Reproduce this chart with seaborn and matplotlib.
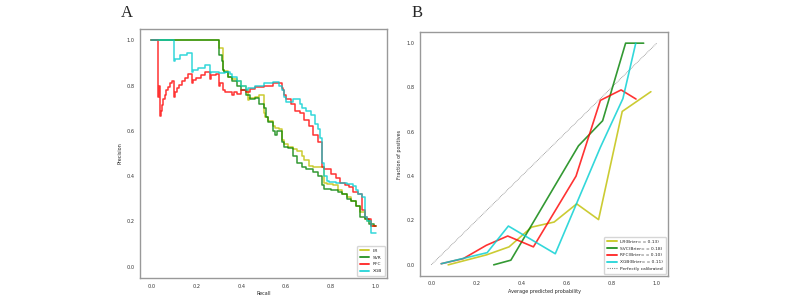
import numpy as np
import pandas as pd
import matplotlib
matplotlib.use("Agg")
import matplotlib.pyplot as plt
import seaborn as sns

# ---- panel A: precision-recall curves ----
lr_recall = [0.0, 0.30, 0.31, 0.32, 0.325, 0.34, 0.36, 0.38, 0.40, 0.42, 0.43, 0.435, 0.46, 0.48, 0.50,
             0.505, 0.52, 0.54, 0.55, 0.57, 0.58, 0.59, 0.61, 0.63, 0.65, 0.67, 0.68, 0.70, 0.72, 0.75,
             0.77, 0.78, 0.81, 0.83, 0.85, 0.87, 0.89, 0.91, 0.93, 0.95, 0.96, 0.98, 1.0]
lr_precision = [1.0, 1.0, 0.967, 0.967, 0.87, 0.865, 0.84, 0.83, 0.82, 0.80, 0.78, 0.735, 0.745, 0.75, 0.76,
                0.68, 0.66, 0.645, 0.62, 0.615, 0.61, 0.56, 0.54, 0.53, 0.52, 0.51, 0.49, 0.47, 0.445, 0.44,
                0.44, 0.37, 0.365, 0.36, 0.34, 0.32, 0.31, 0.29, 0.27, 0.24, 0.21, 0.20, 0.18]

svr_recall = [0.0, 0.30, 0.305, 0.315, 0.32, 0.325, 0.34, 0.36, 0.38, 0.40, 0.42, 0.44, 0.46, 0.48, 0.50,
              0.51, 0.52, 0.54, 0.55, 0.56, 0.58, 0.59, 0.61, 0.63, 0.65, 0.67, 0.69, 0.72, 0.74, 0.76,
              0.77, 0.80, 0.83, 0.85, 0.87, 0.89, 0.91, 0.93, 0.95, 0.97, 0.99, 1.0]
svr_precision = [1.0, 1.0, 0.935, 0.935, 0.91, 0.87, 0.86, 0.84, 0.82, 0.80, 0.78, 0.76, 0.74, 0.745, 0.72,
                 0.70, 0.66, 0.64, 0.60, 0.58, 0.60, 0.55, 0.53, 0.525, 0.49, 0.46, 0.44, 0.43, 0.42, 0.40,
                 0.36, 0.345, 0.34, 0.33, 0.32, 0.30, 0.29, 0.27, 0.22, 0.21, 0.19, 0.18]

rfc_recall = [0.0, 0.029, 0.033, 0.037, 0.042, 0.047, 0.053, 0.06, 0.067, 0.075, 0.083, 0.091, 0.10,
              0.105, 0.115, 0.125, 0.137, 0.15, 0.165, 0.18, 0.185, 0.20, 0.22, 0.24, 0.26, 0.265, 0.29,
              0.30, 0.305, 0.32, 0.33, 0.36, 0.37, 0.38, 0.40, 0.42, 0.44, 0.46, 0.50, 0.54, 0.58, 0.585,
              0.59, 0.60, 0.62, 0.64, 0.66, 0.68, 0.70, 0.72, 0.74, 0.76, 0.77, 0.80, 0.82, 0.84, 0.86,
              0.88, 0.90, 0.92, 0.94, 0.95, 0.96, 0.98, 1.0]
rfc_precision = [1.0, 1.0, 0.75, 0.80, 0.667, 0.69, 0.715, 0.74, 0.76, 0.78, 0.795, 0.81, 0.82,
                 0.75, 0.77, 0.79, 0.805, 0.82, 0.835, 0.85, 0.81, 0.825, 0.835, 0.845, 0.86, 0.83, 0.845,
                 0.85, 0.80, 0.81, 0.78, 0.77, 0.76, 0.77, 0.765, 0.78, 0.77, 0.785, 0.795, 0.80, 0.81, 0.79,
                 0.78, 0.76, 0.74, 0.72, 0.69, 0.68, 0.65, 0.62, 0.58, 0.55, 0.44, 0.43, 0.41, 0.39, 0.37,
                 0.36, 0.35, 0.33, 0.32, 0.25, 0.22, 0.21, 0.18]

xgb_recall = [0.0, 0.10, 0.105, 0.13, 0.16, 0.18, 0.185, 0.21, 0.24, 0.26, 0.265, 0.30, 0.33, 0.35, 0.36,
              0.38, 0.40, 0.42, 0.43, 0.46, 0.50, 0.54, 0.57, 0.58, 0.59, 0.60, 0.61, 0.63, 0.64, 0.66,
              0.67, 0.69, 0.71, 0.73, 0.74, 0.75, 0.76, 0.77, 0.78, 0.79, 0.82, 0.84, 0.87, 0.90, 0.91,
              0.92, 0.94, 0.95, 0.96, 0.98, 1.0]
xgb_precision = [1.0, 1.0, 0.91, 0.92, 0.935, 0.945, 0.86, 0.87, 0.88, 0.89, 0.855, 0.86, 0.855, 0.86, 0.85,
                 0.84, 0.82, 0.80, 0.78, 0.79, 0.80, 0.81, 0.815, 0.80, 0.78, 0.75, 0.73, 0.73, 0.74, 0.74,
                 0.72, 0.70, 0.69, 0.67, 0.63, 0.61, 0.57, 0.46, 0.40, 0.38, 0.375, 0.37, 0.37, 0.365, 0.355,
                 0.34, 0.32, 0.31, 0.22, 0.20, 0.15]

# ---- panel B: calibration curves ----
lr_mean_pred = [0.075, 0.245, 0.345, 0.445, 0.545, 0.645, 0.742, 0.847, 0.974]
lr_frac_pos = [0.0, 0.045, 0.081, 0.17, 0.193, 0.275, 0.204, 0.692, 0.781]
svc_mean_pred = [0.277, 0.353, 0.653, 0.760, 0.862, 0.942]
svc_frac_pos = [0.0, 0.021, 0.537, 0.650, 1.0, 1.0]
rfc_mean_pred = [0.044, 0.142, 0.244, 0.339, 0.453, 0.642, 0.750, 0.842, 0.908]
rfc_frac_pos = [0.005, 0.028, 0.088, 0.13, 0.081, 0.40, 0.742, 0.789, 0.748]
xgb_mean_pred = [0.044, 0.248, 0.342, 0.550, 0.750, 0.850, 0.907]
xgb_frac_pos = [0.005, 0.055, 0.175, 0.05, 0.53, 0.75, 1.0]

models = ["LR", "SVR", "RFC", "XGB"]
brier_labels = ["LR(Brier= = 0.13)", "SVC(Brier= = 0.18)", "RFC(Brier= = 0.10)", "XGB(Brier= = 0.11)"]
colors = ["#bfbf00", "#008000", "#ff0000", "#00ced1"]

pr_data = [(lr_recall, lr_precision), (svr_recall, svr_precision),
           (rfc_recall, rfc_precision), (xgb_recall, xgb_precision)]
cal_data = [(lr_mean_pred, lr_frac_pos), (svc_mean_pred, svc_frac_pos),
            (rfc_mean_pred, rfc_frac_pos), (xgb_mean_pred, xgb_frac_pos)]

sns.set_style("white")
plt.rcParams["font.family"] = ["DejaVu Sans"]

fig = plt.figure(figsize=(8, 2.97), dpi=100)
ax1 = fig.add_axes([0.175, 0.064, 0.309, 0.838])
ax2 = fig.add_axes([0.525, 0.071, 0.31, 0.821])

for (r, p), name, c in zip(pr_data, models, colors):
    df = pd.DataFrame({"recall": r, "precision": p})
    sns.lineplot(data=df, x="recall", y="precision", sort=False, estimator=None,
                 drawstyle="steps-pre", color=c, alpha=0.8, linewidth=1.1, label=name, ax=ax1)

ax2.plot([0, 1], [0, 1], linestyle=(0, (1, 1)), color="#888888", linewidth=0.6,
         label="Perfectly calibrated", zorder=1)
for (x, y), name, c in zip(cal_data, brier_labels, colors):
    df = pd.DataFrame({"mean_pred": x, "frac_pos": y})
    sns.lineplot(data=df, x="mean_pred", y="frac_pos", sort=False, estimator=None,
                 color=c, alpha=0.8, linewidth=1.2, label=name, ax=ax2)

# move "Perfectly calibrated" to the end of the legend
h, l = ax2.get_legend_handles_labels()
h = h[1:] + h[:1]
l = l[1:] + l[:1]

ticks = [0.0, 0.2, 0.4, 0.6, 0.8, 1.0]
for ax in (ax1, ax2):
    ax.set_xlim(-0.05, 1.05)
    ax.set_ylim(-0.05, 1.05)
    ax.set_xticks(ticks)
    ax.set_yticks(ticks)
    ax.tick_params(labelsize=3.6, length=2, width=0.5, colors="#333333", pad=2)
    for s in ax.spines.values():
        s.set_color("#999999")
        s.set_linewidth(1.0)

ax1.set_xlabel("Recall", fontsize=3.5, labelpad=2)
ax1.set_ylabel("Precision", fontsize=3.5, labelpad=3)
ax2.set_xlabel("Average predicted probability", fontsize=3.5, labelpad=2)
ax2.set_ylabel("Fraction of positives", fontsize=3.5, labelpad=3)

leg_kw = dict(loc="lower right", fontsize=3.2, handlelength=2.2, borderpad=0.6,
              labelspacing=0.6, handletextpad=0.8)
leg1 = ax1.legend(**leg_kw)
leg2 = ax2.legend(h, l, **leg_kw)
for leg in (leg1, leg2):
    for line in leg.get_lines():
        if line.get_label() == "Perfectly calibrated":
            line.set_linewidth(0.8)
        else:
            line.set_linewidth(1.4)

fig.text(0.151, 0.955, "A", fontsize=12, family="Liberation Serif", va="center", ha="left")
fig.text(0.515, 0.955, "B", fontsize=12, family="Liberation Serif", va="center", ha="left")

fig.savefig("out.png", dpi=100, facecolor="white")
